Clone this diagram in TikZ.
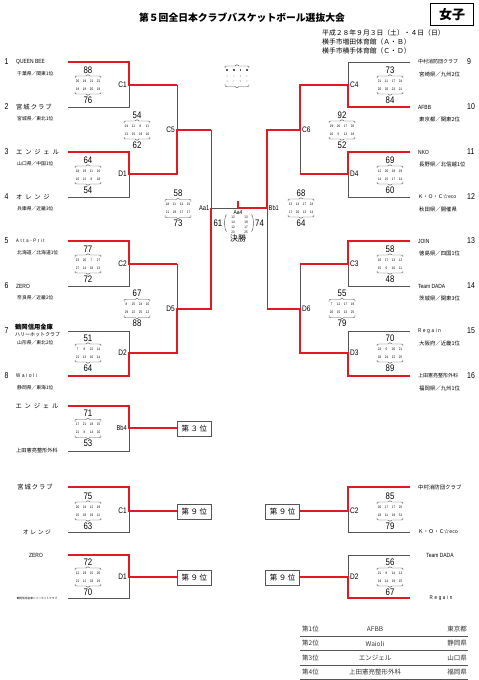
\documentclass[tikz,border=0pt]{standalone}
\usepackage{fontspec}
\setmainfont{Noto Sans CJK JP}
\newfontfamily\jp{Noto Sans CJK JP}
\newfontfamily\cond[FakeStretch=0.82]{Liberation Sans}
\definecolor{bred}{RGB}{226,24,34}
\definecolor{lgray}{RGB}{85,85,85}
\newcommand{\fsz}[1]{\fontsize{#1}{#1}\selectfont}
\newcommand{\myk}{\kern1.7pt}
\newcommand{\jk}{\kern2.8pt}
\newcommand{\sbrace}[4]{%
  \draw[lgray,line width=0.45pt] ({#1-#3},{#2+2.2*(#4)}) .. controls ({#1-#3},{#2}) .. ({#1-#3+2},{#2}) -- ({#1-2},{#2}) .. controls ({#1-0.6},{#2}) .. ({#1},{#2-1.3*(#4)}) .. controls ({#1+0.6},{#2}) .. ({#1+2},{#2}) -- ({#1+#3-2},{#2}) .. controls ({#1+#3},{#2}) .. ({#1+#3},{#2+2.2*(#4)});}
\newcommand{\sblock}[7]{%
  \node[big] (#1t) at ({#2},{#3-15}) {#4};
  \sbrace{#2}{#3-9}{13}{1}
  \foreach \v [count=\i] in {#5} \node[tiny] (#1a\i) at ({#2+(\i-2.5)*7},{#3-3.8}) {\v};
  \foreach \v [count=\i] in {#6} \node[tiny] (#1b\i) at ({#2+(\i-2.5)*7},{#3+3.8}) {\v};
  \sbrace{#2}{#3+9}{13}{-1}
  \node[big] (#1u) at ({#2},{#3+15}) {#7};}
\begin{document}
\begin{tikzpicture}[x=1pt,y=-1pt,
  big/.style={font=\cond\fsz{9.5},inner sep=0},
  tiny/.style={font=\cond\fsz{3.6},inner sep=0},
  lab/.style={font=\cond\fsz{8},inner sep=0},
  seed/.style={font=\cond\fsz{8.5},inner sep=0},
  nm/.style={font=\jp\fsz{6.3},inner sep=0,anchor=west},
  nms/.style={font=\jp\fsz{5},inner sep=0,anchor=west},
  lat/.style={font=\cond\fsz{6},inner sep=0,anchor=west},
  sub/.style={font=\jp\fsz{4.8},inner sep=0,anchor=west},
  subr/.style={font=\jp\fsz{5.4},inner sep=0,anchor=west},
  gl/.style={lgray,line width=0.6pt},
  rl/.style={bred,line width=1.4pt,line join=miter},
  pbox/.style={draw=lgray,line width=0.8pt,minimum width=34pt,minimum height=15pt,inner sep=0,font=\jp\fsz{7.5}},
  tab/.style={font=\jp\fsz{6.5},inner sep=0,text=black!80}]
\useasboundingbox (0,0) rectangle (479,680);
\fill[white] (0,0) rectangle (479,680);

% ---------- header ----------
\node[font=\jp\bfseries\fsz{9.8},inner sep=0] (title) at (242,18) {第５回全日本クラブバスケットボール選抜大会};
\node[draw=black,line width=0.8pt,minimum width=43pt,minimum height=22pt,inner sep=0,font=\jp\bfseries\fsz{13}] (girls) at (452,14.5) {女子};
\node[font=\jp\fsz{6.8},inner sep=0,anchor=west] (d1) at (322,33) {平成２８年９月３日（土）・４日（日）};
\node[font=\jp\fsz{6.8},inner sep=0,anchor=west] (d2) at (322,42) {横手市増田体育館（Ａ・Ｂ）};
\node[font=\jp\fsz{6.8},inner sep=0,anchor=west] (d3) at (322,51) {横手市横手体育館（Ｃ・Ｄ）};

% placeholder block
\sbrace{237}{66}{12}{1}
\sbrace{237}{86.5}{12}{-1}
\foreach \i in {1,...,4} {
  \fill[lgray] ({237+(\i-2.5)*6.6-0.8},69.2) rectangle ++(1.6,1.6);
  \fill[lgray] ({237+(\i-2.5)*6.6},76) circle (0.45);
  \fill[lgray] ({237+(\i-2.5)*6.6},81) circle (0.45);
}

% ---------- left teams ----------
\node[seed] (s1) at (6.5,62) {1};
\node[lat] (n1) at (16,62) {QUEEN BEE};
\node[sub] (u1) at (17,74) {千葉県／関東1位};
\node[seed] (s2) at (6.5,107) {2};
\node[nm] (n2) at (16,107) {宮\kern1pt 城\kern1pt ク\kern1pt ラ\kern1pt ブ};
\node[sub] (u2) at (17,119) {宮城県／東北1位};
\node[seed] (s3) at (6.5,152) {3};
\node[nm] (n3) at (16,152) {エ\jk ン\jk ジ\jk ェ\jk ル};
\node[sub] (u3) at (17,164) {山口県／中国1位};
\node[seed] (s4) at (6.5,197) {4};
\node[nm] (n4) at (16,197) {オ\jk レ\jk ン\jk ジ};
\node[sub] (u4) at (17,209) {兵庫県／近畿3位};
\node[seed] (s5) at (6.5,241) {5};
\node[lat,font=\cond\fsz{5}] (n5) at (16,241) {A\myk t\myk t\myk a\myk -\myk P\myk r\myk i\myk t};
\node[sub] (u5) at (17,253) {北海道／北海道1位};
\node[seed] (s6) at (6.5,286) {6};
\node[lat] (n6) at (16,286) {ZERO};
\node[sub] (u6) at (17,298) {奈良県／近畿2位};
\node[seed] (s7) at (6.5,331) {7};
\node[nm,font=\jp\bfseries\fsz{6.3}] (n7) at (15,327.5) {鶴岡信用金庫};
\node[sub,font=\jp\fsz{5}] (n7b) at (15,335) {ハリーホットクラブ};
\node[sub] (u7) at (17,343) {山形県／東北2位};
\node[seed] (s8) at (6.5,376) {8};
\node[lat,font=\cond\fsz{5.5}] (n8) at (16,376) {W\myk a\myk i\myk o\myk l\myk i};
\node[sub] (u8) at (17,388) {静岡県／東海1位};

% ---------- right teams ----------
\node[seed,anchor=west] (s9) at (467,62) {9};
\node[nms] (n9) at (418,62) {中村消防団クラブ};
\node[subr] (u9) at (419,74) {宮崎県／九州2位};
\node[seed,anchor=west] (s10) at (467,107) {10};
\node[lat] (n10) at (418,107) {AFBB};
\node[subr] (u10) at (419,119) {東京都／関東2位};
\node[seed,anchor=west] (s11) at (467,152) {11};
\node[lat] (n11) at (418,152) {NKO};
\node[subr] (u11) at (419,164) {長野県／北信越1位};
\node[seed,anchor=west] (s12) at (467,197) {12};
\node[nms] (n12) at (418,197) {Ｋ・Ｏ・Ｃ☆eco};
\node[subr] (u12) at (419,209) {秋田県／開催県};
\node[seed,anchor=west] (s13) at (467,241) {13};
\node[lat] (n13) at (418,241) {JOIN};
\node[subr] (u13) at (419,253) {徳島県／四国1位};
\node[seed,anchor=west] (s14) at (467,286) {14};
\node[lat] (n14) at (418,286) {Team DADA};
\node[subr] (u14) at (419,298) {茨城県／関東3位};
\node[seed,anchor=west] (s15) at (467,331) {15};
\node[lat,font=\cond\fsz{5.5}] (n15) at (418,331) {R\myk e\myk g\myk a\myk i\myk n};
\node[subr] (u15) at (419,343) {大阪府／近畿1位};
\node[seed,anchor=west] (s16) at (467,376) {16};
\node[nms] (n16) at (418,376) {上田憲亮整形外科};
\node[subr] (u16) at (419,388) {福岡県／九州1位};

% ---------- bracket lines (gray) ----------
\draw[gl] (68,107) -- (129,107) -- (129,85);
\draw[gl] (68,197) -- (129,197) -- (129,174);
\draw[gl] (68,286) -- (129,286) -- (129,264);
\draw[gl] (68,331) -- (129,331) -- (129,353);
\draw[gl] (177,85) -- (177,130);
\draw[gl] (177,264) -- (177,309);
\draw[gl] (211,130) -- (211,208) -- (238,208);
\draw[gl] (410,62) -- (348,62) -- (348,85);
\draw[gl] (410,197) -- (348,197) -- (348,174);
\draw[gl] (410,286) -- (348,286) -- (348,264);
\draw[gl] (410,331) -- (348,331) -- (348,353);
\draw[gl] (300,130) -- (300,174);
\draw[gl] (300,264) -- (300,309);
\draw[gl] (267,208) -- (267,309);
% ---------- bracket lines (red) ----------
\draw[rl] (68,62) -- (129,62) -- (129,85) -- (177,85);
\draw[rl] (68,152) -- (129,152) -- (129,174) -- (177,174) -- (177,130) -- (211,130);
\draw[rl] (68,241) -- (129,241) -- (129,264) -- (177,264);
\draw[rl] (68,376) -- (129,376) -- (129,353) -- (177,353) -- (177,309) -- (211,309) -- (211,208);
\draw[rl] (410,107) -- (348,107) -- (348,85) -- (300,85) -- (300,130) -- (267,130) -- (267,208) -- (238,208) -- (238,201);
\draw[rl] (410,152) -- (348,152) -- (348,174) -- (300,174);
\draw[rl] (410,241) -- (348,241) -- (348,264) -- (300,264);
\draw[rl] (410,376) -- (348,376) -- (348,353) -- (300,353) -- (300,309) -- (267,309);

% ---------- game labels ----------
\node[lab,anchor=east] (gC1) at (127,85) {C1};
\node[lab,anchor=east] (gD1) at (127,174) {D1};
\node[lab,anchor=east] (gC2) at (127,264) {C2};
\node[lab,anchor=east] (gD2) at (127,353) {D2};
\node[lab,anchor=east] (gC5) at (175,130) {C5};
\node[lab,anchor=east] (gD5) at (175,309) {D5};
\node[lab,anchor=east,font=\cond\fsz{7}] (gAa1) at (209.5,208) {Aa1};
\node[lab,font=\cond\fsz{6}] (gAa4) at (238,212.5) {Aa4};
\node[lab,anchor=west,font=\cond\fsz{7}] (gBb1) at (268.5,208) {Bb1};
\node[lab,anchor=west] (gC4) at (350,85) {C4};
\node[lab,anchor=west] (gD4) at (350,174) {D4};
\node[lab,anchor=west] (gC3) at (350,264) {C3};
\node[lab,anchor=west] (gD3) at (350,353) {D3};
\node[lab,anchor=west] (gC6) at (302,130) {C6};
\node[lab,anchor=west] (gD6) at (302,309) {D6};

% ---------- scores ----------
\sblock{sC1}{88}{85}{88}{26,19,21,22}{19,18,20,19}{76}
\sblock{sD1}{88}{175}{64}{18,19,11,16}{16,12,8,18}{54}
\sblock{sC2}{88}{264}{77}{23,20,7,27}{27,14,18,13}{72}
\sblock{sD2}{88}{353}{51}{7,8,22,14}{21,13,16,14}{64}
\sblock{sC5}{137}{130}{54}{24,11,8,11}{12,15,19,16}{62}
\sblock{sD5}{137}{308.5}{67}{8,25,24,10}{29,22,25,12}{88}
\sblock{sAa1}{178}{208.5}{58}{18,11,14,15}{21,18,17,17}{73}
\sblock{sC4}{390}{85}{73}{21,11,17,24}{20,20,23,21}{84}
\sblock{sD4}{390}{175}{69}{12,20,18,19}{14,15,17,14}{60}
\sblock{sC3}{390}{264}{58}{16,17,13,12}{15,6,16,11}{48}
\sblock{sD3}{390}{353}{70}{23,6,20,21}{18,24,22,25}{89}
\sblock{sC6}{342}{130}{92}{29,26,17,20}{16,5,13,18}{52}
\sblock{sD6}{342}{308.5}{55}{7,12,17,19}{26,15,13,25}{79}
\sblock{sBb1}{301}{208}{68}{13,14,17,24}{17,20,13,14}{64}

% ---------- final ----------
\node[big,anchor=east] (f61) at (222.5,223) {61};
\node[big,anchor=west] (f74) at (255,223) {74};
\draw[lgray,line width=0.45pt] (226.5,214.5) .. controls (224,216.5) and (224,229.5) .. (226.5,231.5);
\draw[lgray,line width=0.45pt] (251.5,214.5) .. controls (254,216.5) and (254,229.5) .. (251.5,231.5);
\foreach \v [count=\i] in {12,14,12,23} \node[tiny] (fa\i) at (233,{212+\i*5}) {\v};
\foreach \v [count=\i] in {13,19,17,25} \node[tiny] (fb\i) at (246,{212+\i*5}) {\v};
\node[font=\jp\fsz{8},inner sep=0] (kessho) at (238,238.5) {決勝};

% ---------- 3rd place ----------
\node[nm,anchor=center] (t3a) at (37,406) {エ\jk ン\jk ジ\jk ェ\jk ル};
\node[nms,anchor=center,font=\jp\fsz{5.2}] (t3b) at (37,451) {上田憲亮整形外科};
\draw[gl] (68,451) -- (129,451) -- (129,428);
\draw[rl] (68,406) -- (129,406) -- (129,428) -- (177,428);
\node[lab,anchor=east,font=\cond\fsz{7}] (gBb4) at (127,428) {Bb4};
\sblock{sBb4}{88}{428.5}{71}{17,21,18,15}{21,8,14,10}{53}
\node[pbox,anchor=west] (p3) at (177,428.5) {第\kern1.5pt ３\kern1.5pt 位};

% ---------- 9th place left ----------
\node[nm,anchor=center] (l9a) at (35,487) {宮\kern1pt 城\kern1pt ク\kern1pt ラ\kern1pt ブ};
\node[nm,anchor=center,font=\jp\fsz{5.8}] (l9b) at (37,532) {オ\kern1.6pt レ\kern1.6pt ン\kern1.6pt ジ};
\draw[gl] (68,532) -- (129,532) -- (129,511);
\draw[rl] (68,487) -- (129,487) -- (129,511) -- (177,511);
\node[lab,anchor=east] (gC1b) at (127,511) {C1};
\sblock{sC1b}{88}{511}{75}{20,24,12,19}{15,18,19,11}{63}
\node[pbox,anchor=west] (p9a) at (177,511.5) {第\kern1.5pt ９\kern1.5pt 位};

\node[lat,anchor=center] (l9c) at (36,555) {ZERO};
\node[font=\jp\fsz{2.7},inner sep=0] (l9d) at (37,598) {鶴岡信用金庫ハリーホットクラブ};
\draw[gl] (68,598) -- (129,598) -- (129,577);
\draw[rl] (68,555) -- (129,555) -- (129,577) -- (177,577);
\node[lab,anchor=east] (gD1b) at (127,577) {D1};
\sblock{sD1b}{88}{577}{72}{12,19,15,26}{21,12,18,19}{70}
\node[pbox,anchor=west] (p9b) at (177,577.5) {第\kern1.5pt ９\kern1.5pt 位};

% ---------- 9th place right ----------
\node[nms,font=\jp\fsz{5.4}] (r9a) at (418,487) {中村消防団クラブ};
\node[nms,font=\jp\fsz{5.2}] (r9b) at (418,532) {Ｋ・Ｏ・Ｃ☆eco};
\draw[gl] (410,532) -- (348,532) -- (348,511);
\draw[rl] (410,487) -- (348,487) -- (348,511) -- (300,511);
\node[lab,anchor=west] (gC2b) at (350,511) {C2};
\sblock{sC2b}{390}{511}{85}{26,17,17,25}{18,11,19,31}{79}
\node[pbox,anchor=east] (p9c) at (300,511.5) {第\kern1.5pt ９\kern1.5pt 位};

\node[lat,anchor=center] (r9c) at (440,555) {Team DADA};
\node[lat,anchor=center,font=\cond\fsz{5.5}] (r9d) at (441,598) {R\myk e\myk g\myk a\myk i\myk n};
\draw[gl] (410,555) -- (348,555) -- (348,577);
\draw[rl] (410,598) -- (348,598) -- (348,577) -- (300,577);
\node[lab,anchor=west] (gD2b) at (350,577) {D2};
\sblock{sD2b}{390}{577}{56}{21,8,14,13}{19,14,19,15}{67}
\node[pbox,anchor=east] (p9d) at (300,577.5) {第\kern1.5pt ９\kern1.5pt 位};

% ---------- standings ----------
\foreach \y/\a/\b/\c [count=\k] in {629/第1位/AFBB/東京都, 643.5/第2位/Waioli/静岡県, 658/第3位/エンジェル/山口県, 672.5/第4位/上田憲亮整形外科/福岡県} {
  \node[tab,anchor=west] (ra\k) at (302,\y) {\a};
  \node[tab] (rb\k) at (375,\y) {\b};
  \node[tab,anchor=east] (rc\k) at (467,\y) {\c};
  \draw[lgray,line width=1pt] (300,{\y+7}) -- (468,{\y+7});
}
\end{tikzpicture}
\end{document}
